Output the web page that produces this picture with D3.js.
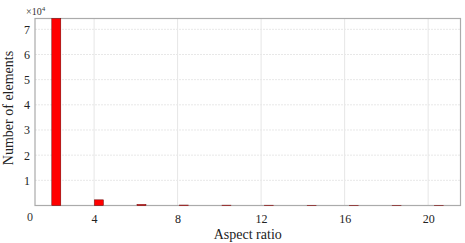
<!doctype html>
<html>
<head>
<meta charset="utf-8">
<title>Aspect ratio histogram</title>
<script src="https://cdn.jsdelivr.net/npm/d3@7"></script>
<style>
  body { margin: 0; background: white; }
  svg { display: block; }
  text { font-family: "Liberation Serif", "Times New Roman", serif; fill: #222; }
</style>
</head>
<body>
<svg id="chart" width="465" height="243"></svg>
<script>
// histogram bins (centers) and counts
var binCenters = [2.19, 4.23, 6.27, 8.30, 10.34, 12.38, 14.42, 16.45, 18.49, 20.53];
var counts = [74300, 2250, 420, 180, 140, 120, 100, 90, 80, 70];
var xTicks = [4, 8, 12, 16, 20];
var yTicks = [1, 2, 3, 4, 5, 6, 7];

var width = 465, height = 243;
var margin = {top: 18.5, right: 4.5, bottom: 37.5, left: 35};

var svg = d3.select('#chart');

var x = d3.scaleLinear()
    .domain([1.17, 21.55])
    .range([margin.left, width - margin.right]);
var y = d3.scaleLinear()
    .domain([0, 74300])
    .range([height - margin.bottom, margin.top]);

// grid
svg.append('g')
    .selectAll('line.vg')
    .data(xTicks)
  .enter().append('line')
    .attr('x1', function (d) { return x(d); })
    .attr('x2', function (d) { return x(d); })
    .attr('y1', y.range()[0])
    .attr('y2', y.range()[1])
    .attr('stroke', '#e6e6e6')
    .attr('stroke-width', 1);
svg.append('g')
    .selectAll('line.hg')
    .data(yTicks)
  .enter().append('line')
    .attr('x1', x.range()[0])
    .attr('x2', x.range()[1])
    .attr('y1', function (d) { return y(d * 1e4); })
    .attr('y2', function (d) { return y(d * 1e4); })
    .attr('stroke', '#e8e8e8')
    .attr('stroke-dasharray', '2,1')
    .attr('stroke-width', 1);

// box
svg.append('rect')
    .attr('x', x.range()[0])
    .attr('y', y.range()[1])
    .attr('width', x.range()[1] - x.range()[0])
    .attr('height', y.range()[0] - y.range()[1])
    .attr('fill', 'none')
    .attr('stroke', '#ababab')
    .attr('stroke-width', 1.2);

// bars
var barW = 9;
svg.append('g')
    .selectAll('rect')
    .data(counts)
  .enter().append('rect')
    .attr('x', function (d, i) { return x(binCenters[i]) - barW / 2; })
    .attr('width', barW)
    .attr('y', function (d) { return y(d); })
    .attr('height', function (d) { return y(0) - y(d); })
    .attr('fill', '#f00')
    .attr('stroke', '#600')
    .attr('stroke-width', 0.5);

// axes (labels only)
var xAxis = d3.axisBottom(x).tickValues(xTicks).tickSize(0).tickPadding(9);
svg.append('g')
    .attr('transform', 'translate(0,' + y.range()[0] + ')')
    .call(xAxis)
    .call(function (g) { g.select('.domain').remove(); })
    .selectAll('text')
    .style('font-family', '"Liberation Serif", serif')
    .style('font-size', '12px')
    .attr('fill', '#333');

var yAxis = d3.axisLeft(y).tickValues(yTicks.map(function (d) { return d * 1e4; }))
    .tickFormat(function (d) { return d / 1e4; })
    .tickSize(0).tickPadding(5);
svg.append('g')
    .attr('transform', 'translate(' + x.range()[0] + ',0)')
    .call(yAxis)
    .call(function (g) { g.select('.domain').remove(); })
    .selectAll('text')
    .style('font-family', '"Liberation Serif", serif')
    .style('font-size', '12px')
    .attr('fill', '#333');

// corner zero
svg.append('text')
    .attr('x', x.range()[0] - 5)
    .attr('y', y.range()[0] + 15)
    .attr('text-anchor', 'middle')
    .style('font-size', '12px')
    .style('fill', '#333')
    .text('0');

// exponent
var ex = svg.append('text')
    .attr('x', 26)
    .attr('y', 15)
    .style('font-size', '10px')
    .style('fill', '#333');
ex.append('tspan').text('\u00d710');
ex.append('tspan').attr('dy', -4).style('font-size', '7px').text('4');

// axis titles
svg.append('text')
    .attr('x', (x.range()[0] + x.range()[1]) / 2)
    .attr('y', 239)
    .attr('text-anchor', 'middle')
    .style('font-size', '14px')
    .text('Aspect ratio');
svg.append('text')
    .attr('transform', 'translate(13,' + 108 + ')rotate(-90)')
    .attr('text-anchor', 'middle')
    .style('font-size', '14px')
    .text('Number of elements');
</script>
</body>
</html>
